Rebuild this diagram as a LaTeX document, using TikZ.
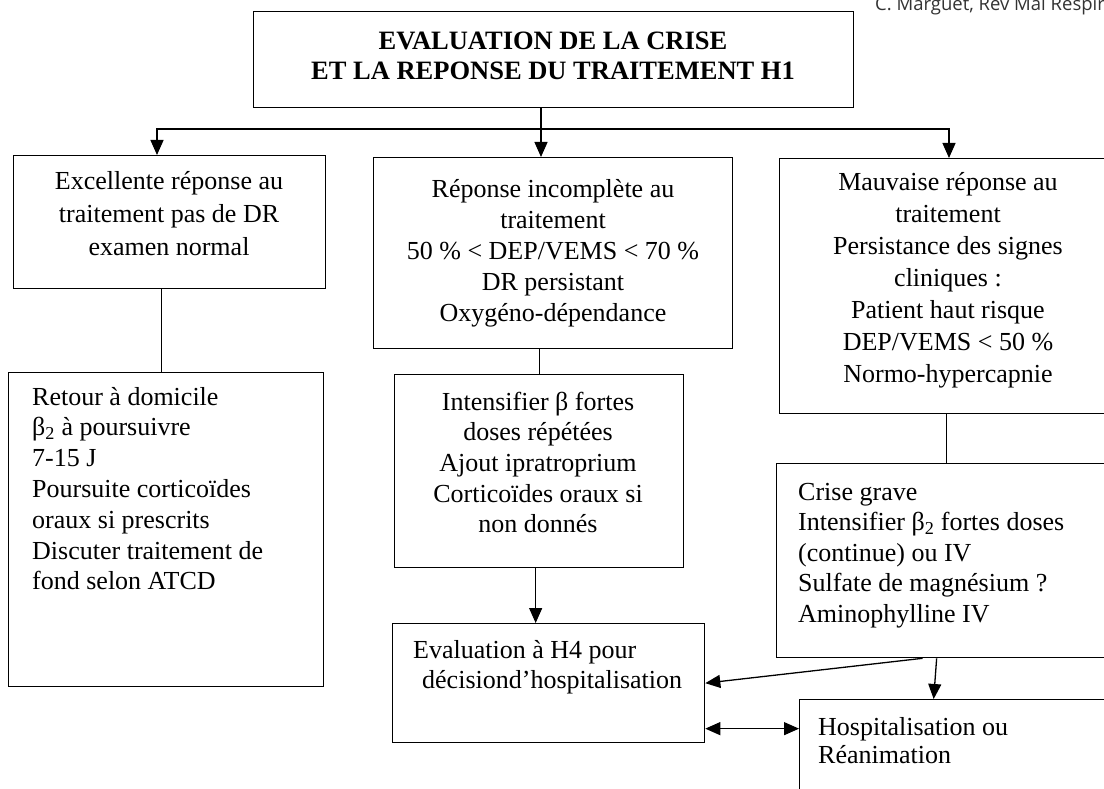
\documentclass[tikz,border=0pt]{standalone}
\usepackage{fontspec}
\setmainfont{Liberation Serif}
\newfontfamily\citefont{Open Sans}
\usetikzlibrary{arrows.meta}
\newcommand\myfs[2]{\fontsize{#1}{#2}\selectfont}
\begin{document}
\begin{tikzpicture}[x=1pt,y=-1pt,
  box/.style={draw, line width=1.3pt, inner sep=0pt, anchor=north west},
  ctext/.style={inner sep=0pt, anchor=north, align=center},
  ltext/.style={inner sep=0pt, anchor=north west, align=left},
  ln/.style={line width=1.3pt},
  arr/.style={line width=1.3pt, -{Triangle[length=15pt,width=13pt]}},
  dbl/.style={line width=1.3pt, {Triangle[length=15pt,width=13pt]}-{Triangle[length=15pt,width=13pt]}}]
\useasboundingbox (0,0) rectangle (1104,789);
\clip (0,0) rectangle (1104,789);
\fill[white] (0,0) rectangle (1104,789);

% boxes
\node[box, minimum width=600pt, minimum height=96pt] (top) at (253,11) {};
\node[box, minimum width=312pt, minimum height=133pt] (exc) at (13,155) {};
\node[box, minimum width=359pt, minimum height=191pt] (inc) at (373,157) {};
\node[box, minimum width=337pt, minimum height=255pt] (mau) at (779,158) {};
\node[box, minimum width=315pt, minimum height=314pt] (ret) at (8,372) {};
\node[box, minimum width=289pt, minimum height=193pt] (int) at (394,374) {};
\node[box, minimum width=340pt, minimum height=194pt] (cri) at (776,463) {};
\node[box, minimum width=312pt, minimum height=119pt] (eva) at (392,623) {};
\node[box, minimum width=320pt, minimum height=120pt] (hos) at (799,699) {};

% texts
\node[ctext, font=\myfs{26.5}{30}\bfseries] (tt) at (553,32) {EVALUATION DE LA CRISE\\ET LA REPONSE DU TRAITEMENT H1};
\node[ctext, font=\myfs{26}{33}] (texc) at (169,166) {\strut Excellente réponse au\\traitement pas de DR\\examen normal};
\node[ctext, font=\myfs{26}{31}] (tinc) at (553,175.3) {\strut Réponse incomplète au\\traitement\\50 \% < DEP/VEMS < 70 \%\\DR persistant\\Oxygéno-dépendance};
\node[ctext, font=\myfs{26}{32}] (tmau) at (948,167.6) {\strut Mauvaise réponse au\\traitement\\Persistance des signes\\cliniques :\\Patient haut risque\\DEP/VEMS < 50 \%\\Normo-hypercapnie};
\node[ltext, font=\myfs{26}{30.8}] (tret) at (32,383.4) {\strut Retour à domicile\\β\textsubscript{2} à poursuivre\\7-15 J\\Poursuite corticoïdes\\oraux si prescrits\\Discuter traitement de\\fond selon ATCD};
\node[ctext, font=\myfs{26}{30.7}] (tint) at (538,388.5) {\strut Intensifier β fortes\\doses répétées\\Ajout ipratroprium\\Corticoïdes oraux si\\non donnés};
\node[ltext, font=\myfs{26}{30.5}] (tcri) at (798,478.7) {\strut Crise grave\\Intensifier β\textsubscript{2} fortes doses\\(continue) ou IV\\Sulfate de magnésium ?\\Aminophylline IV};
\node[ltext, font=\myfs{26}{30}] (teva) at (413,637) {\strut Evaluation à H4 pour\\\hspace*{9pt}décisiond’hospitalisation};
\node[ltext, font=\myfs{26}{28}] (thos) at (818,715.4) {\strut Hospitalisation ou\\Réanimation};
\node[inner sep=0pt, anchor=base west, font=\citefont\myfs{18.5}{20}, text=black!80] (cite) at (875,11) {C. Marguet, Rev Mal Respir};

% connectors
\coordinate (j) at (541,129);
\coordinate (jl) at (157,129);
\coordinate (jr) at (949,129);
\draw[ln] (top.south -| j) -- (j);
\draw[arr] (j) -- (inc.north -| j);
\draw[arr] (j) -| (exc.north -| jl);
\draw[arr] (j) -| (mau.north -| jr);
\draw[ln] ([xshift=-8pt]exc.south) -- ([xshift=-8pt]exc.south |- ret.north);
\draw[ln] ([xshift=-13.5pt]inc.south) -- ([xshift=-13.5pt]inc.south |- int.north);
\draw[arr] ([xshift=-3.5pt]int.south) -- ([xshift=-3.5pt]int.south |- eva.north);
\draw[ln] ([xshift=-1.5pt]mau.south) -- ([xshift=-1.5pt]mau.south |- cri.north);
\draw[arr] ([xshift=-10pt]cri.south) -- ([xshift=-13pt]cri.south |- hos.north);
\draw[arr] ([xshift=-24pt]cri.south) -- (eva.east);
\coordinate (d) at ([yshift=-45.5pt]eva.east);
\draw[dbl] (d) -- (d -| hos.west);
\end{tikzpicture}
\end{document}
